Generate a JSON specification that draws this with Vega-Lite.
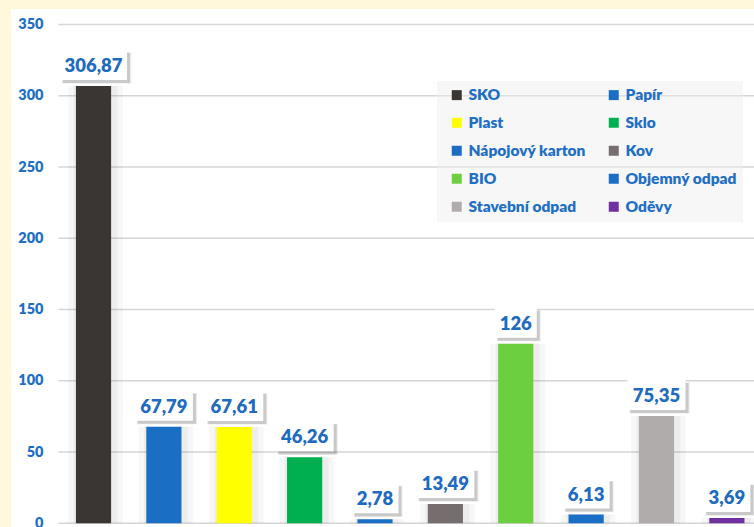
{
  "$schema": "https://vega.github.io/schema/vega-lite/v6.json",
  "width": 743,
  "height": 518,
  "autosize": "none",
  "padding": {"left": 11, "top": 9, "right": 0, "bottom": 0},
  "background": "#FFF8DB",
  "config": {
    "view": {"fill": "#ffffff", "stroke": null},
    "font": "Lato",
    "locale": {"number": {"decimal": ",", "thousands": " ", "grouping": [3], "currency": ["", ""]}}
  },
  "datasets": {
    "odpad": [
      {"kategorie": "SKO", "hodnota": 306.87},
      {"kategorie": "Papír", "hodnota": 67.79},
      {"kategorie": "Plast", "hodnota": 67.61},
      {"kategorie": "Sklo", "hodnota": 46.26},
      {"kategorie": "Nápojový karton", "hodnota": 2.78},
      {"kategorie": "Kov", "hodnota": 13.49},
      {"kategorie": "BIO", "hodnota": 126},
      {"kategorie": "Objemný odpad", "hodnota": 6.13},
      {"kategorie": "Stavební odpad", "hodnota": 75.35},
      {"kategorie": "Oděvy", "hodnota": 3.69}
    ],
    "mrizka": [
      {"t": 0}, {"t": 50}, {"t": 100}, {"t": 150}, {"t": 200}, {"t": 250}, {"t": 300}, {"t": 350}
    ]
  },
  "data": {"name": "odpad"},
  "encoding": {
    "x": {
      "field": "kategorie", "type": "nominal", "sort": null, "axis": null,
      "scale": {
        "domain": ["SKO", "Papír", "Plast", "Sklo", "Nápojový karton", "Kov", "BIO", "Objemný odpad", "Stavební odpad", "Oděvy"],
        "paddingInner": 0.5, "paddingOuter": 0.529, "align": 0.872
      }
    },
    "y": {
      "field": "hodnota", "type": "quantitative",
      "scale": {"domain": [-2.6, 360.9], "nice": false, "zero": false},
      "axis": {
        "title": null, "domain": false, "ticks": false, "tickSize": 0, "grid": false,
        "values": [0, 50, 100, 150, 200, 250, 300, 350],
        "offset": -34, "labelPadding": 2,
        "labelFont": "Lato", "labelFontWeight": 800, "labelFontSize": 14.5, "labelColor": "#1f6fc5"
      }
    }
  },
  "layer": [
    {
      "data": {"name": "mrizka"},
      "mark": {"type": "rule", "color": "#d6d6d6", "strokeWidth": 1.5},
      "encoding": {
        "x": {"datum": "SKO", "bandPosition": -0.5},
        "x2": {"datum": "Oděvy", "bandPosition": 1.5},
        "y": {"field": "t", "type": "quantitative"}
      }
    },
    {
      "mark": {"type": "bar", "color": "#000000", "opacity": 0.03, "width": {"band": 1.55}, "xOffset": 2},
      "encoding": {}
    },
    {
      "mark": {"type": "bar", "color": "#000000", "opacity": 0.04, "width": {"band": 1.25}, "xOffset": 2},
      "encoding": {}
    },
    {
      "mark": {"type": "bar"},
      "encoding": {
        "color": {
          "field": "kategorie", "type": "nominal",
          "scale": {
            "domain": ["SKO", "Papír", "Plast", "Sklo", "Nápojový karton", "Kov", "BIO", "Objemný odpad", "Stavební odpad", "Oděvy"],
            "range": ["#3a3634", "#1a6fc4", "#ffff00", "#00b050", "#1a6fc4", "#766e6e", "#6ccf3f", "#1a6fc4", "#b0acab", "#7030a0"]
          },
          "legend": {
            "title": null, "orient": "none", "legendX": 426, "legendY": 72,
            "columns": 2, "direction": "horizontal",
            "fillColor": "rgba(238,238,238,0.45)", "padding": 6, "symbolOffset": 6,
            "symbolType": "square", "symbolSize": 100, "symbolStrokeWidth": 0,
            "labelFont": "Lato", "labelFontWeight": 800, "labelFontSize": 15.5, "labelColor": "#1f6fc5",
            "labelOffset": 4, "rowPadding": 11, "columnPadding": 14, "labelLimit": 300
          }
        }
      }
    },
    {
      "mark": {"type": "point", "filled": true, "color": "#000000", "opacity": 0.08, "size": 3900, "xOffset": 3, "yOffset": -18},
      "encoding": {
        "shape": {
          "condition": [
            {"test": "datum.hodnota >= 100 && datum.hodnota % 1 != 0", "value": "M-1.117,-0.5H1.117V0.5H-1.117Z"},
            {"test": "datum.hodnota >= 100", "value": "M-0.7,-0.5H0.7V0.5H-0.7Z"},
            {"test": "datum.hodnota >= 10", "value": "M-0.967,-0.5H0.967V0.5H-0.967Z"}
          ],
          "value": "M-0.783,-0.5H0.783V0.5H-0.783Z"
        }
      }
    },
    {
      "mark": {"type": "point", "filled": true, "color": "#000000", "opacity": 0.14, "size": 3600, "xOffset": 3, "yOffset": -18},
      "encoding": {
        "shape": {
          "condition": [
            {"test": "datum.hodnota >= 100 && datum.hodnota % 1 != 0", "value": "M-1.117,-0.5H1.117V0.5H-1.117Z"},
            {"test": "datum.hodnota >= 100", "value": "M-0.7,-0.5H0.7V0.5H-0.7Z"},
            {"test": "datum.hodnota >= 10", "value": "M-0.967,-0.5H0.967V0.5H-0.967Z"}
          ],
          "value": "M-0.783,-0.5H0.783V0.5H-0.783Z"
        }
      }
    },
    {
      "mark": {"type": "point", "filled": true, "color": "#ffffff", "opacity": 1, "size": 3600, "yOffset": -21},
      "encoding": {
        "shape": {
          "condition": [
            {"test": "datum.hodnota >= 100 && datum.hodnota % 1 != 0", "value": "M-1.117,-0.5H1.117V0.5H-1.117Z"},
            {"test": "datum.hodnota >= 100", "value": "M-0.7,-0.5H0.7V0.5H-0.7Z"},
            {"test": "datum.hodnota >= 10", "value": "M-0.967,-0.5H0.967V0.5H-0.967Z"}
          ],
          "value": "M-0.783,-0.5H0.783V0.5H-0.783Z"
        }
      }
    },
    {
      "mark": {"type": "text", "font": "Lato", "fontWeight": 800, "fontSize": 18.5, "color": "#1f6bc0", "baseline": "middle", "dy": -20},
      "encoding": {
        "text": {"field": "hodnota", "type": "quantitative", "format": ".5~g"}
      }
    }
  ]
}
